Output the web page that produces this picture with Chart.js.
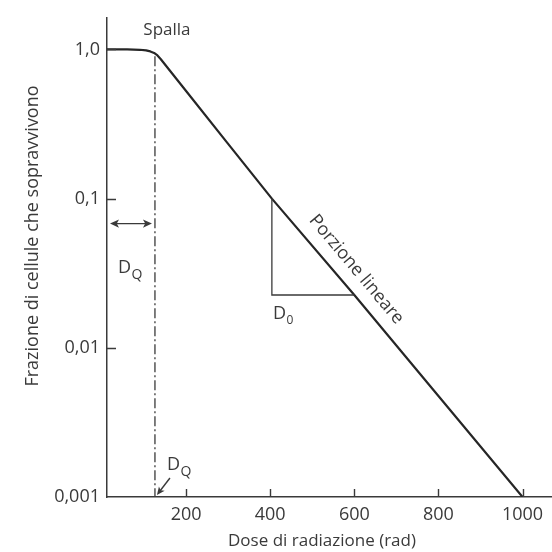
<!DOCTYPE html>
<html>
<head>
<meta charset="utf-8">
<script src="https://cdn.jsdelivr.net/npm/chart.js@4.4.1/dist/chart.umd.min.js"></script>
<style>
  html, body { margin: 0; padding: 0; background: #ffffff; }
  #wrap { width: 552px; height: 552px; }
</style>
</head>
<body>
<div id="wrap"><canvas id="c" width="552" height="552"></canvas></div>
<script>
// Cell survival curve: dose (rad) vs surviving fraction (log scale)
const doseRad = [12, 60, 90, 105, 115, 124, 132, 140, 200, 300, 404, 600, 800, 1000];
const survivingFraction = [1.0, 1.0, 0.995, 0.985, 0.97, 0.948, 0.912, 0.86, 0.527, 0.233, 0.1, 0.0226, 0.00475, 0.001];

const doseTicks = [200, 400, 600, 800, 1000];
const fractionTicks = [0.001, 0.01, 0.1, 1];
const fractionTickLabels = ['0,001', '0,01', '0,1', '1,0'];

// Quasi-threshold dose D_Q and the D0 construction on the linear portion
const quasiThresholdDose = 126;
const dqLineTopFraction = 0.9;
const dqArrowFraction = 0.068;
const d0Dose = [404, 600];
const d0Fraction = [0.1, 0.0226];

const INK = '#3a3a3a';
const FONT = '"Open Sans", "DejaVu Sans", sans-serif';

function arrowHead(ctx, x, y, angle, size) {
  ctx.save();
  ctx.translate(x, y);
  ctx.rotate(angle);
  ctx.beginPath();
  ctx.moveTo(0, 0);
  ctx.lineTo(-size, -size * 0.45);
  ctx.lineTo(-size * 0.75, 0);
  ctx.lineTo(-size, size * 0.45);
  ctx.closePath();
  ctx.fill();
  ctx.restore();
}

function subscripted(ctx, main, sub, x, baseline, size, subSize, drop) {
  ctx.textAlign = 'left';
  ctx.textBaseline = 'alphabetic';
  ctx.font = size + 'px ' + FONT;
  ctx.fillText(main, x, baseline);
  const w = ctx.measureText(main).width;
  ctx.font = subSize + 'px ' + FONT;
  ctx.fillText(sub, x + w + 0.5, baseline + drop);
}

const annotations = {
  id: 'survivalAnnotations',
  afterDatasetsDraw(chart) {
    const ctx = chart.ctx;
    const xs = chart.scales.x, ys = chart.scales.y;
    const area = chart.chartArea;
    const px = d => xs.getPixelForValue(d);
    const py = f => ys.getPixelForValue(f);

    ctx.save();
    ctx.strokeStyle = INK;
    ctx.fillStyle = INK;

    // inward tick marks
    ctx.lineWidth = 1.4;
    ctx.beginPath();
    fractionTicks.forEach(f => {
      if (f <= ys.min) return;
      const y = Math.round(py(f)) + 0.5;
      ctx.moveTo(area.left, y);
      ctx.lineTo(area.left + 9, y);
    });
    doseTicks.forEach(d => {
      const x = Math.round(px(d)) + 0.5;
      ctx.moveTo(x, area.bottom);
      ctx.lineTo(x, area.bottom - 8);
    });
    ctx.stroke();

    // D_Q dash-dot line
    const xq = px(quasiThresholdDose);
    ctx.lineWidth = 1.3;
    ctx.setLineDash([10, 3, 2, 3]);
    ctx.beginPath();
    ctx.moveTo(xq, py(dqLineTopFraction));
    ctx.lineTo(xq, area.bottom);
    ctx.stroke();
    ctx.setLineDash([]);

    // double-headed arrow spanning D_Q
    const ya = py(dqArrowFraction);
    const xa0 = area.left + 3, xa1 = xq - 3;
    ctx.lineWidth = 1.4;
    ctx.beginPath();
    ctx.moveTo(xa0 + 4, ya);
    ctx.lineTo(xa1 - 4, ya);
    ctx.stroke();
    arrowHead(ctx, xa0, ya, Math.PI, 9);
    arrowHead(ctx, xa1, ya, 0, 9);

    // D_Q labels
    subscripted(ctx, 'D', 'Q', area.left + 11, ya + 49, 18, 14, 6);
    subscripted(ctx, 'D', 'Q', xq + 12, area.bottom - 27, 18, 14, 6);

    // small arrow pointing at D_Q on the dose axis
    const bx0 = xq + 15, by0 = area.bottom - 19;
    const bx1 = xq + 2, by1 = area.bottom - 2;
    ctx.beginPath();
    ctx.moveTo(bx0, by0);
    ctx.lineTo(bx1 + 3, by1 - 4);
    ctx.stroke();
    arrowHead(ctx, bx1, by1, Math.atan2(by1 - by0, bx1 - bx0), 8);

    // D0 construction
    ctx.lineWidth = 1.3;
    ctx.beginPath();
    ctx.moveTo(px(d0Dose[0]), py(d0Fraction[0]));
    ctx.lineTo(px(d0Dose[0]), py(d0Fraction[1]));
    ctx.lineTo(px(d0Dose[1]), py(d0Fraction[1]));
    ctx.stroke();
    subscripted(ctx, 'D', '0', px(d0Dose[0]) + 1, py(d0Fraction[1]) + 24, 18, 12, 5);

    // "Spalla" over the shoulder
    ctx.font = '17px ' + FONT;
    ctx.textAlign = 'center';
    ctx.textBaseline = 'alphabetic';
    ctx.fillText('Spalla', xq + 12, py(1) - 14);

    // "Porzione lineare" along the straight portion
    const p1 = { x: px(d0Dose[0]), y: py(d0Fraction[0]) };
    const p2 = { x: px(1000), y: py(0.001) };
    const ang = Math.atan2(p2.y - p1.y, p2.x - p1.x);
    const t = (570 - d0Dose[0]) / (1000 - d0Dose[0]);
    const ax = p1.x + t * (p2.x - p1.x) + 19 * Math.sin(ang);
    const ay = p1.y + t * (p2.y - p1.y) - 19 * Math.cos(ang);
    ctx.save();
    ctx.translate(ax, ay);
    ctx.rotate(ang);
    ctx.font = '18px ' + FONT;
    ctx.textBaseline = 'middle';
    ctx.fillText('Porzione lineare', 0, 0);
    ctx.restore();

    // axis titles
    ctx.font = '17px ' + FONT;
    ctx.textAlign = 'center';
    ctx.textBaseline = 'middle';
    ctx.fillText('Dose di radiazione (rad)', 322, 541);
    ctx.save();
    ctx.translate(33, 236);
    ctx.rotate(-Math.PI / 2);
    ctx.font = '18px ' + FONT;
    ctx.fillText('Frazione di cellule che sopravvivono', 0, 0);
    ctx.restore();

    ctx.restore();
  }
};

new Chart(document.getElementById('c'), {
  type: 'line',
  data: {
    datasets: [{
      data: doseRad.map((d, i) => ({ x: d, y: survivingFraction[i] })),
      borderColor: '#262626',
      borderWidth: 2.2,
      pointRadius: 0,
      fill: false,
      tension: 0,
      borderJoinStyle: 'round'
    }]
  },
  options: {
    responsive: false,
    devicePixelRatio: 1,
    animation: false,
    layout: { padding: { top: 14, right: 0, left: 0, bottom: 0 } },
    plugins: { legend: { display: false }, tooltip: { enabled: false } },
    scales: {
      x: {
        type: 'linear',
        min: 12,
        max: 1070,
        grid: { display: false, drawTicks: false },
        border: { display: true, color: INK, width: 1.5 },
        afterBuildTicks: s => { s.ticks = doseTicks.map(v => ({ value: v })); },
        afterFit: s => { s.height = 55; },
        ticks: {
          color: INK,
          font: { family: FONT, size: 18 },
          padding: 7,
          maxRotation: 0,
          autoSkip: false,
          callback: v => String(v)
        }
      },
      y: {
        type: 'logarithmic',
        min: 0.001,
        max: 1.63,
        grid: { display: false, drawTicks: false },
        border: { display: true, color: INK, width: 1.5 },
        afterBuildTicks: s => { s.ticks = fractionTicks.map(v => ({ value: v })); },
        afterFit: s => { s.width = 107; },
        ticks: {
          color: INK,
          font: { family: FONT, size: 18 },
          padding: 7,
          autoSkip: false,
          callback: v => {
            const i = fractionTicks.findIndex(f => Math.abs(f - v) / f < 1e-6);
            return i >= 0 ? fractionTickLabels[i] : '';
          }
        }
      }
    }
  },
  plugins: [annotations]
});
</script>
</body>
</html>
